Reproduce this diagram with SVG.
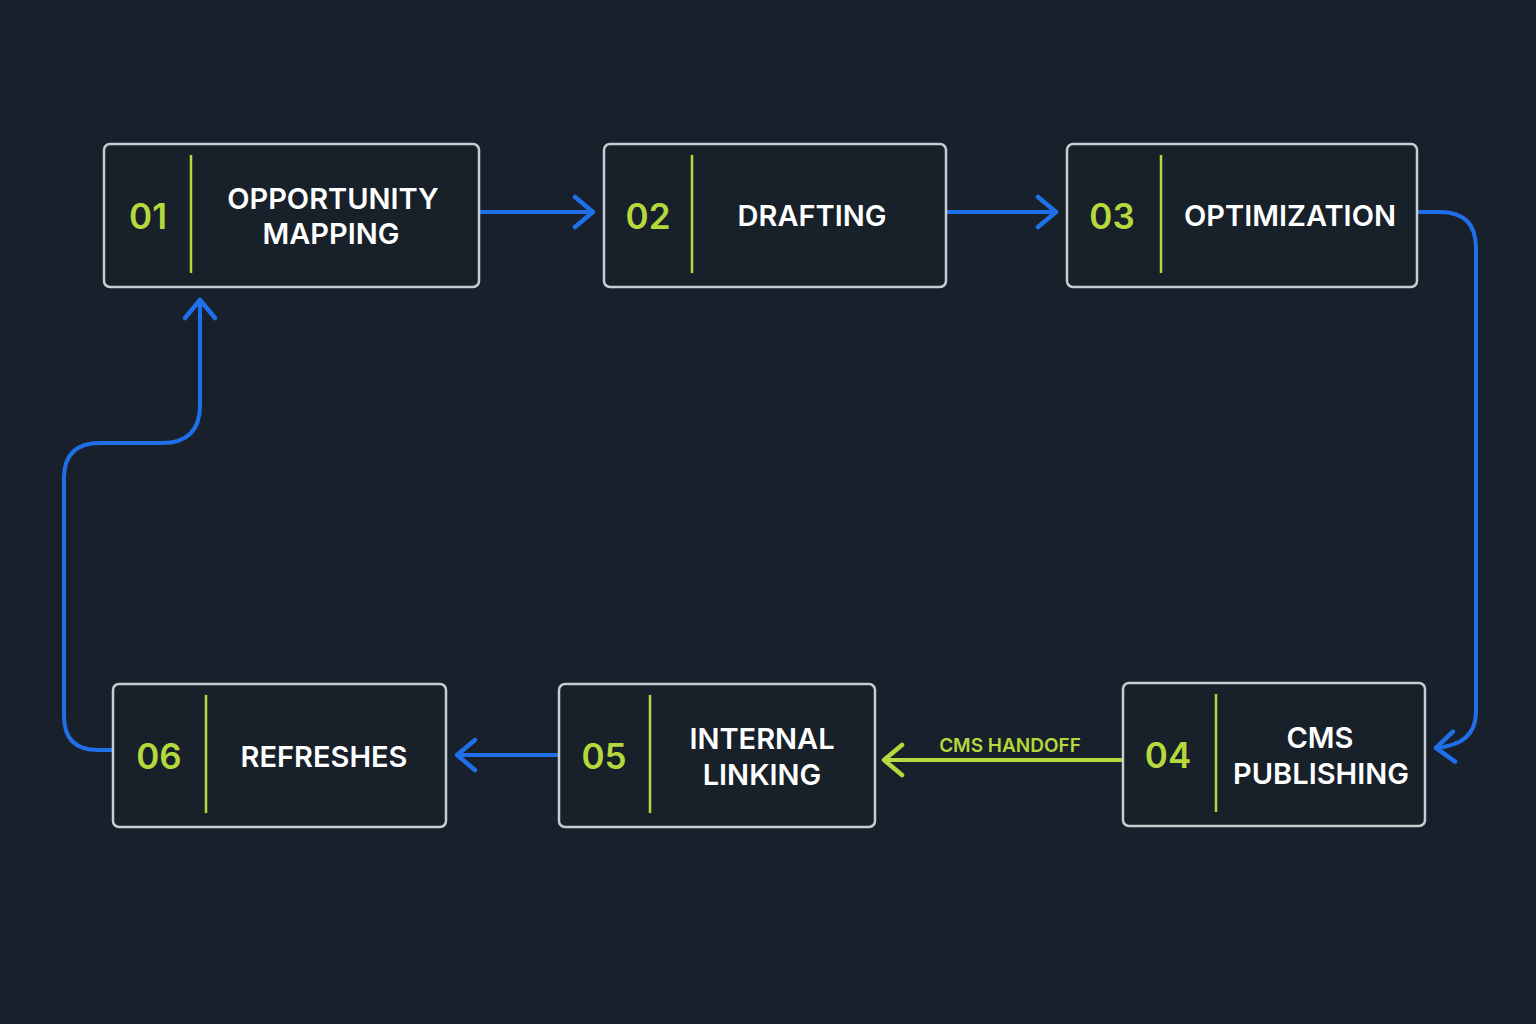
<svg xmlns="http://www.w3.org/2000/svg" width="1536" height="1024" viewBox="0 0 1536 1024">
<defs>
<marker id="ab" viewBox="0 0 24 36" refX="22" refY="18" markerWidth="24" markerHeight="36" markerUnits="userSpaceOnUse" orient="auto"><path d="M3 3 L21 18 L3 33" fill="none" stroke="#1f6fe8" stroke-width="4.5" stroke-linecap="round" stroke-linejoin="round"/></marker>
<marker id="ag" viewBox="0 0 24 36" refX="22" refY="18" markerWidth="24" markerHeight="36" markerUnits="userSpaceOnUse" orient="auto"><path d="M3 3 L21 18 L3 33" fill="none" stroke="#b5d83c" stroke-width="4.5" stroke-linecap="round" stroke-linejoin="round"/></marker>
</defs>
<style>
.box{fill:#18202a;stroke:#c8ccd0;stroke-width:2.5}
.div{stroke:#b5d83c;stroke-width:2.5}
.num{fill:#b5d83c;font-family:Inter,"Liberation Sans",sans-serif;font-weight:600;font-size:35px;text-anchor:middle}
.lbl{fill:#ffffff;font-family:Inter,"Liberation Sans",sans-serif;font-weight:600;font-size:29px;text-anchor:middle}
.b{fill:none;stroke:#1f6fe8;stroke-width:4}
.g{fill:none;stroke:#b5d83c;stroke-width:4}
</style>
<rect width="1536" height="1024" fill="#18202b"/>
<g id="connectors">
<path class="b" d="M480 212 H594" marker-end="url(#ab)"/>
<path class="b" d="M947 212 H1057" marker-end="url(#ab)"/>
<path class="b" d="M1418 212 H1440 Q1476 212 1476 248 V712 Q1476 745 1435 748" marker-end="url(#ab)"/>
<path class="g" d="M1122 760 H883" marker-end="url(#ag)"/>
<text x="1010" y="752" fill="#b5d83c" font-family="Inter,'Liberation Sans',sans-serif" font-weight="600" font-size="19" text-anchor="middle">CMS HANDOFF</text>
<path class="b" d="M558 755 H456" marker-end="url(#ab)"/>
<path class="b" d="M112 750 H98 Q64 750 64 716 V478 Q64 443 100 443 H162 Q200 443 200 405 V299" marker-end="url(#ab)"/>
</g>
<g id="n1"><rect class="box" x="104" y="144" width="375" height="143" rx="6"/><line class="div" x1="191" y1="155" x2="191" y2="273"/><text class="num" x="148" y="229">01</text><text class="lbl" x="333" y="209">OPPORTUNITY</text><text class="lbl" x="331" y="244">MAPPING</text></g>
<g id="n2"><rect class="box" x="604" y="144" width="342" height="143" rx="6"/><line class="div" x1="692" y1="155" x2="692" y2="273"/><text class="num" x="648" y="229">02</text><text class="lbl" x="812" y="226">DRAFTING</text></g>
<g id="n3"><rect class="box" x="1067" y="144" width="350" height="143" rx="6"/><line class="div" x1="1161" y1="155" x2="1161" y2="273"/><text class="num" x="1112" y="229">03</text><text class="lbl" x="1290" y="226">OPTIMIZATION</text></g>
<g id="n4"><rect class="box" x="1123" y="683" width="302" height="143" rx="6"/><line class="div" x1="1216" y1="694" x2="1216" y2="812"/><text class="num" x="1168" y="768">04</text><text class="lbl" x="1320" y="748">CMS</text><text class="lbl" x="1321" y="784">PUBLISHING</text></g>
<g id="n5"><rect class="box" x="559" y="684" width="316" height="143" rx="6"/><line class="div" x1="650" y1="695" x2="650" y2="813"/><text class="num" x="604" y="769">05</text><text class="lbl" x="762" y="749">INTERNAL</text><text class="lbl" x="762" y="785">LINKING</text></g>
<g id="n6"><rect class="box" x="113" y="684" width="333" height="143" rx="6"/><line class="div" x1="206" y1="695" x2="206" y2="813"/><text class="num" x="159" y="769">06</text><text class="lbl" x="324" y="767">REFRESHES</text></g>
</svg>
